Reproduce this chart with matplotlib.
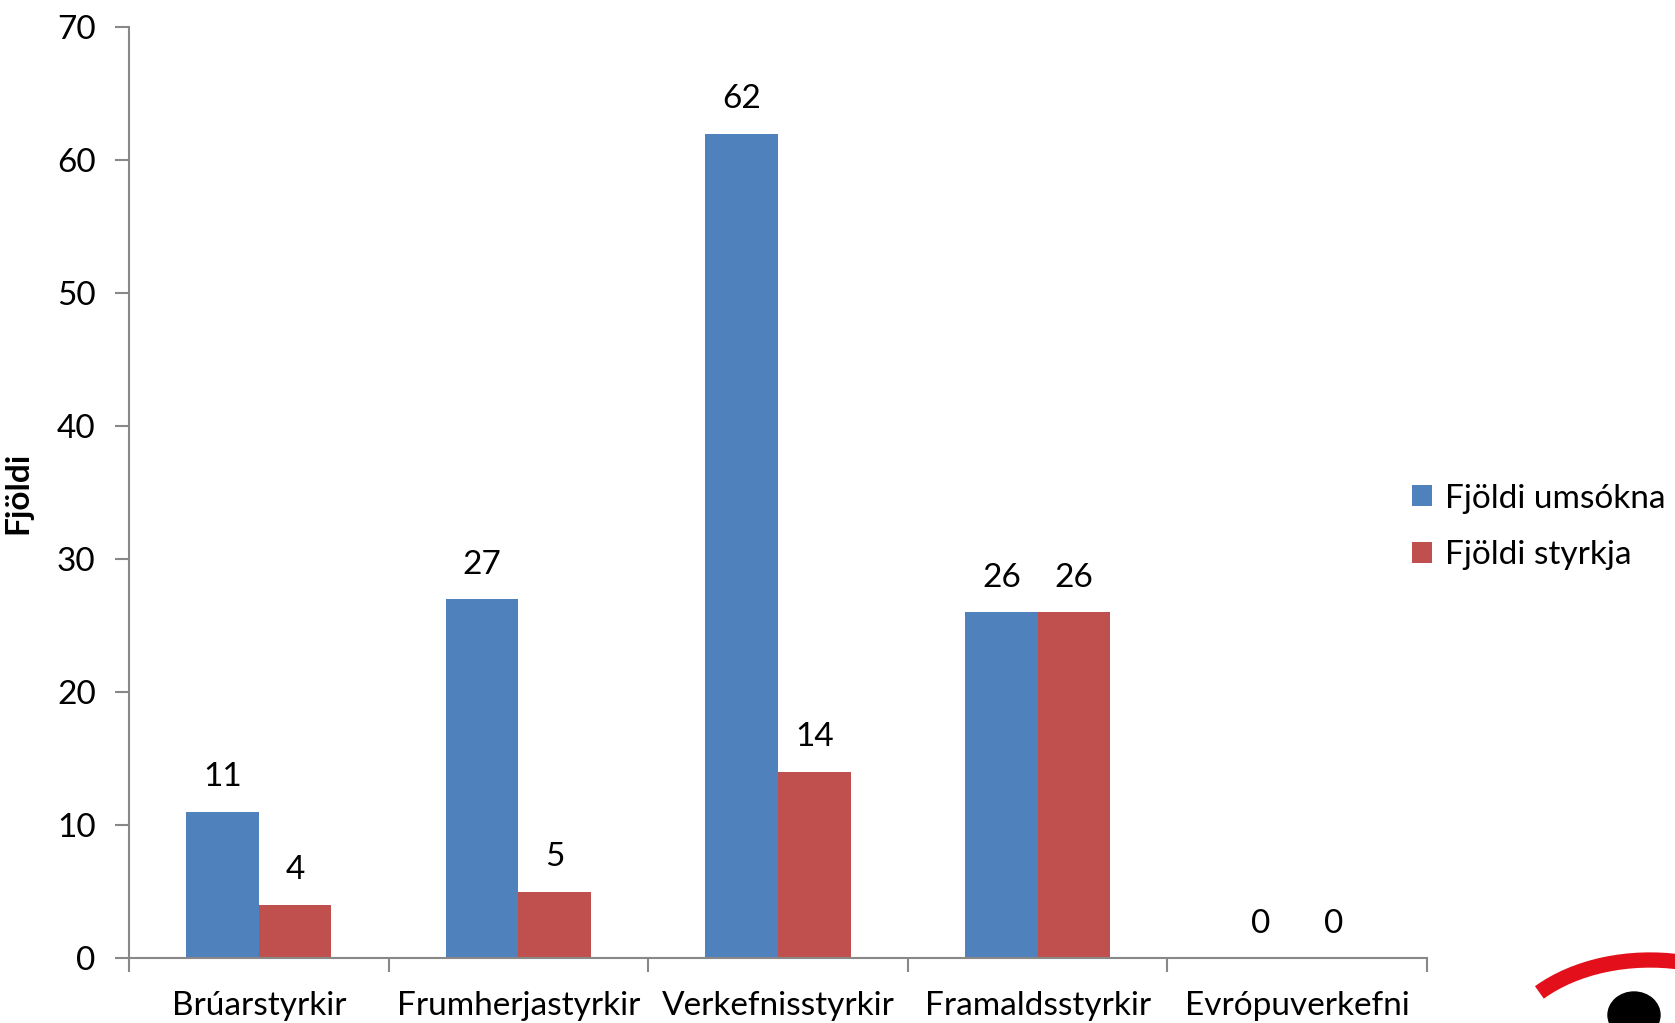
import numpy as np
import matplotlib.pyplot as plt
from matplotlib.patches import Ellipse, Arc

categories = ['Brúarstyrkir', 'Frumherjastyrkir', 'Verkefnisstyrkir', 'Framaldsstyrkir', 'Evrópuverkefni']
umsoknir = [11, 27, 62, 26, 0]
styrkir = [4, 5, 14, 26, 0]
series_names = ['Fjöldi umsókna', 'Fjöldi styrkja']

plt.rcParams['font.family'] = ['Lato', 'DejaVu Sans']
fs = 24

fig = plt.figure(figsize=(16.75, 10.23), dpi=100)
ax = fig.add_axes([0.077, 0.0635, 0.775, 0.91])

x = np.arange(len(categories))
w = 0.28
b1 = ax.bar(x - w / 2, umsoknir, w, color='#4f81bd', label=series_names[0])
b2 = ax.bar(x + w / 2, styrkir, w, color='#c0504d', label=series_names[1])

for bars, vals in [(b1, umsoknir), (b2, styrkir)]:
    for r, v in zip(bars, vals):
        ax.annotate(str(v), (r.get_x() + r.get_width() / 2, v), xytext=(0, 14),
                    textcoords='offset points', ha='center', va='bottom', fontsize=fs)

ax.set_xlim(-0.5, len(categories) - 0.5)
ax.set_ylim(0, 70)
ax.set_yticks(range(0, 71, 10))
ax.set_xticks(x)
ax.set_xticklabels(categories)
ax.set_xticks(np.arange(-0.5, len(categories), 1), minor=True)
ax.tick_params(axis='x', which='major', length=0, pad=24, labelsize=fs)
ax.tick_params(axis='x', which='minor', length=10, color='#888888', width=1.5)
ax.tick_params(axis='y', length=10, color='#888888', width=1.5, labelsize=fs, pad=14)

for s in ['top', 'right']:
    ax.spines[s].set_visible(False)
for s in ['left', 'bottom']:
    ax.spines[s].set_color('#888888')
    ax.spines[s].set_linewidth(1.5)

ax.set_ylabel('Fjöldi', fontsize=fs, fontweight='bold', labelpad=18)

fig.legend(handles=[b1, b2], loc='center left', bbox_to_anchor=(0.843, 0.485),
           frameon=False, fontsize=fs, handlelength=0.6, handleheight=0.6,
           handletextpad=0.4, labelspacing=0.8, borderaxespad=0, borderpad=0)

# logo fragment in the bottom right corner
fig.patches.append(Arc((1650 / 1675, (1023 - 1060) / 1023), 300 / 1675, 200 / 1023,
                       theta1=20, theta2=135, transform=fig.transFigure,
                       color='#e3101b', lw=11))
fig.patches.append(Ellipse((1634 / 1675, (1023 - 1015) / 1023), 52 / 1675, 46 / 1023,
                           transform=fig.transFigure, color='black'))

plt.savefig('out.png', dpi=100)
